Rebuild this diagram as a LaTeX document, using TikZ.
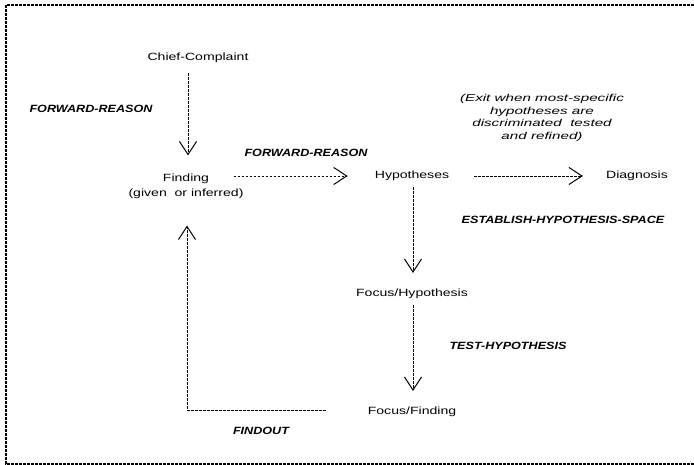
\documentclass[tikz,border=0pt]{standalone}
\usepackage{fontspec}
\setmainfont[FakeStretch=1.34]{Liberation Sans}
\newfontfamily\lblfont[FakeStretch=1.2]{Liberation Sans}
\newfontfamily\exitfont[FakeStretch=1.52]{Liberation Sans}
\usetikzlibrary{arrows.meta}
\tikzset{
  txt/.style={inner sep=0pt, font=\fontsize{10.5}{15}\selectfont, align=center},
  lbl/.style={inner sep=0pt, font=\fontsize{10.5}{13}\selectfont\lblfont\bfseries\itshape},
  exitnote/.style={inner sep=0pt, font=\fontsize{10}{12.4}\selectfont\exitfont\itshape, align=center},
  arr/.style={line width=0.9pt, dash pattern=on 2.6pt off 1.4pt,
    -{Straight Barb[length=13pt,width=17pt,line width=1pt,sep=0pt]}},
  frame/.style={line width=1.1pt, dash pattern=on 3pt off 1pt}
}
\begin{document}
\begin{tikzpicture}[x=1pt,y=-1pt]
\useasboundingbox (0,0) rectangle (694,465);
\draw[frame] (694,5) -- (6,5) -- (6,464) -- (694,464);

\node[txt] (cc)   at (198,58)  {Chief-Complaint};
\node[txt] (find) at (186,186) {Finding\\(given\ \ or inferred)};
\node[txt] (hyp)  at (412,176) {Hypotheses};
\node[txt] (diag) at (637,176) {Diagnosis};
\node[txt] (fh)   at (412,294) {Focus/Hypothesis};
\node[txt] (ff)   at (412,412) {Focus/Finding};

\node[lbl] (l1) at (91,109)  {FORWARD-REASON};
\node[lbl] (l2) at (306,153) {FORWARD-REASON};
\node[lbl] (l3) at (563,220) {ESTABLISH-HYPOTHESIS-SPACE};
\node[lbl] (l4) at (508,346) {TEST-HYPOTHESIS};
\node[lbl] (l5) at (261,431) {FINDOUT};
\node[exitnote] (ex) at (542,118) {(Exit when most-specific\\hypotheses are\\discriminated\ \ tested\\and refined)};

\draw[arr, shorten <=10pt, shorten >=18pt] ([xshift=2pt]find.north |- cc.south) -- ([xshift=2pt]find.north);
\draw[arr, shorten <=-10pt, shorten >=27pt] (find.east |- hyp.west) -- (hyp.west);
\draw[arr, shorten <=25pt, shorten >=23pt] (hyp.east) -- (diag.west);
\draw[arr, shorten <=6pt, shorten >=16pt] ([xshift=1pt]hyp.south) -- ([xshift=1pt]fh.north);
\draw[arr, shorten <=6pt, shorten >=16pt] ([xshift=1pt]fh.south) -- ([xshift=1pt]ff.north);
\draw[arr, shorten <=42pt, shorten >=27pt] ([yshift=2pt]ff.west) -| ([xshift=1pt]find.south);
\end{tikzpicture}
\end{document}
